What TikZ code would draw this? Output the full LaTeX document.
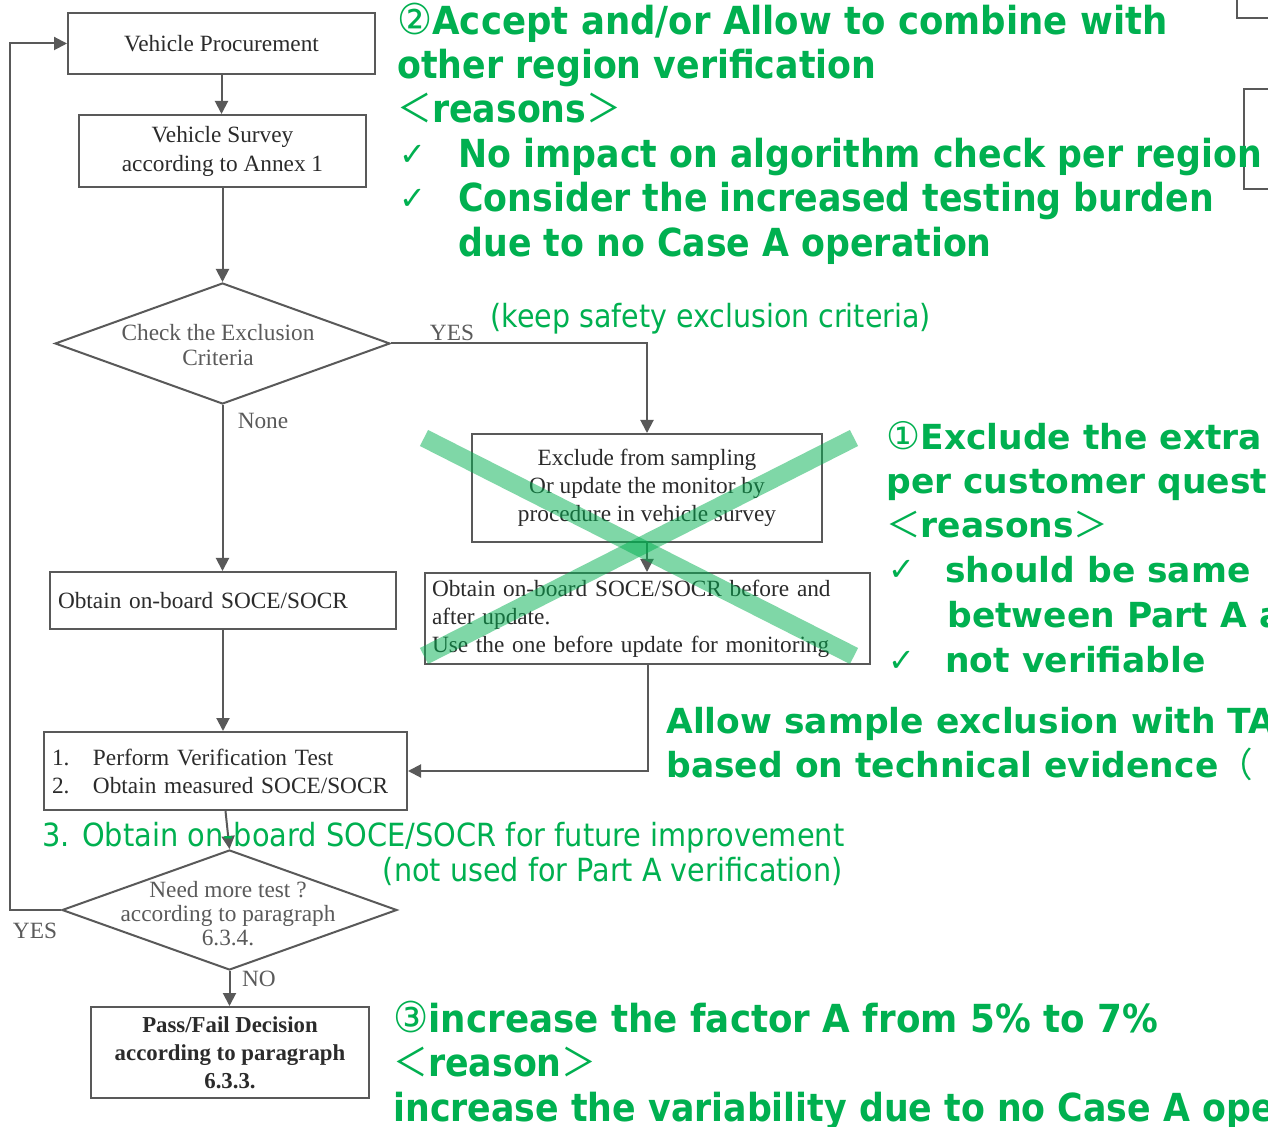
\documentclass[tikz,border=0pt]{standalone}
\usepackage{graphicx}
\usepackage{fontspec}
\setmainfont{Liberation Serif}
\newfontfamily\gf{DejaVu Sans}
\newfontfamily\cjkf{Noto Sans CJK JP}
\usetikzlibrary{shapes.geometric,arrows.meta}
\definecolor{gr}{HTML}{00B050}
\definecolor{lc}{HTML}{595959}
\definecolor{tc}{HTML}{2B2B2B}
\definecolor{dt}{HTML}{5A5A5A}
\newcommand\vstr[1]{\scalebox{1.008}[1.12]{#1}}
\newcommand\vstrw[2]{\scalebox{#1}[1.12]{#2}}
\newcommand\gbig{\gf\bfseries\fontsize{17.25}{20}\selectfont}
\newcommand\gsm{\gf\fontsize{14.25}{17}\selectfont}
\newcommand\ckm{{\gf\mdseries\fontsize{16}{20}\selectfont ✓}}
\newcommand\lab[1]{{\cjkf\mdseries #1}}
\newcommand\circn[1]{{\gf\mdseries\fontsize{19}{20}\selectfont #1}}
\begin{document}
\begin{tikzpicture}[x=0.5pt,y=-0.5pt,
  box/.style={draw=lc,line width=1pt,inner sep=0pt,text=tc,font=\fontsize{11.65}{14}\selectfont,align=center},
  dia/.style={draw=lc,line width=1pt,diamond,inner sep=0pt},
  dtext/.style={inner sep=0pt,text=dt,font=\fontsize{11.65}{12.2}\selectfont,align=center},
  lbl/.style={inner sep=0pt,text=dt,font=\fontsize{11.65}{14}\selectfont},
  arr/.style={draw=lc,line width=1pt,-{Triangle[length=6.5pt,width=6.5pt]}},
  gl/.style={anchor=base west,inner sep=0pt,text=gr,font=\gbig},
  gs/.style={inner sep=0pt,text=gr,font=\gsm},
  cross/.style={draw=gr,line width=9pt,opacity=0.5}]
\fill[white] (0,0) rectangle (1268,1127);
\useasboundingbox (0,0) rectangle (1268,1127);

% partial boxes at right edge
\draw[lc,line width=1pt] (1237,-5) -- (1237,18) -- (1280,18);
\draw[lc,line width=1pt] (1280,89) -- (1244,89) -- (1244,189) -- (1280,189);

% flowchart nodes
\node[box,minimum width=153.5pt,minimum height=30.5pt] (vp) at (221.5,43.5) {Vehicle Procurement};
\node[box,minimum width=143.5pt,minimum height=36pt,font=\fontsize{11.65}{14.5}\selectfont] (vsv) at (222.5,151) {Vehicle Survey\\according to Annex 1};
\node[dia,minimum width=167.5pt,minimum height=60.5pt] (d1) at (222.5,343.5) {};
\node[dtext] (d1t) at (218,345) {Check the Exclusion\\Criteria};
\node[box,minimum width=175pt,minimum height=54pt] (ex) at (647,488) {Exclude from sampling\\Or update the monitor by\\procedure in vehicle survey};
\node[box,minimum height=28.5pt,text width=165pt,inner xsep=4pt,align=left] (ob) at (223,600.5) {Obtain on-board SOCE/SOCR};
\node[box,minimum height=45.5pt,text width=215.5pt,inner xsep=3.5pt,align=left] (ob2) at (647.5,618.5) {Obtain on-board SOCE/SOCR before and\\after update.\\Use the one before update for monitoring};
\node[box,minimum height=39pt,text width=173.5pt,inner xsep=4pt,align=left] (pv) at (225.5,771) {\makebox[20.5pt][l]{1.}Perform Verification Test\\\makebox[20.5pt][l]{2.}Obtain measured SOCE/SOCR};
\node[dia,minimum width=167.5pt,minimum height=60pt] (d2) at (229.5,910) {};
\node[dtext] (d2t) at (228,913.5) {Need more test ?\\according to paragraph\\6.3.4.};
\node[box,minimum width=139pt,minimum height=45.5pt,font=\bfseries\fontsize{11.4}{14}\selectfont] (pf) at (230,1052.5) {Pass/Fail Decision\\according to paragraph\\6.3.3.};

% connectors
\draw[arr] (vp.south) -- (vp.south |- vsv.north);
\draw[arr] (vsv.south) -- (vsv.south |- d1.north);
\draw[arr] (d1.east) -| (ex.north);
\draw[arr] (d1.south) -- (d1.south |- ob.north);
\draw[arr] (ex.south) -- (ex.south |- ob2.north);
\draw[arr] (ob2.south) |- (pv.east);
\draw[arr] (ob.south) -- (ob.south |- pv.north);
\draw[arr] (pv.south) -- (d2.north);
\coordinate (lp) at (10,910);
\draw[arr] (d2.west) -- (lp) |- (vp.west);
\draw[arr] (d2.south) -- (d2.south |- pf.north);

% flow labels
\node[lbl] (yes1) at (452,333) {YES};
\node[lbl] (none) at (263,421) {None};
\node[lbl] (yes2) at (35,931) {YES};
\node[lbl] (no) at (259,979) {NO};

% small green notes
\node[gs,anchor=base west] (keep) at (490,328) {\vstrw{1}{(keep safety exclusion criteria)}};
\node[gs,anchor=base west] (obt3) at (42,846) {\vstrw{1.012}{3. Obtain on-board SOCE/SOCR for future improvement}};
\node[gs,anchor=base east] (notused) at (843,881) {\vstrw{1.005}{(not used for Part A verification)}};

% block 2
\node[gl] (g1) at (397,35) {\vstrw{1.03}{\circn{②}Accept and/or Allow to combine with}};
\node[gl] (g2) at (397,79) {\vstr{other region verification}};
\node[gl] (g3) at (397,123) {\vstr{\lab{＜}reasons\lab{＞}}};
\node[gl] (g4c) at (399,166) {\ckm};
\node[gl] (g4) at (458,168) {\vstr{No impact on algorithm check per region}};
\node[gl] (g5c) at (399,210) {\ckm};
\node[gl] (g5) at (458,212) {\vstr{Consider the increased testing burden}};
\node[gl] (g6) at (458,257) {\vstr{due to no Case A operation}};

% block 1
\node[gl] (h1) at (886,450) {\circn{①}Exclude the extra};
\node[gl] (h2) at (886,494) {per customer quest};
\node[gl] (h3) at (886,538) {\lab{＜}reasons\lab{＞}};
\node[gl] (h4c) at (888,581) {\ckm};
\node[gl] (h4) at (945,583) {should be same};
\node[gl] (h5) at (947,628) {between Part A a};
\node[gl] (h6c) at (888,671) {\ckm};
\node[gl] (h6) at (945,673) {not verifiable};

% allow block
\node[gl] (a1) at (666,733) {Allow sample exclusion with TA};
\node[gl] (a2) at (666,777) {based on technical evidence\lab{（}};

% block 3
\node[gl] (k1) at (393,1032) {\vstrw{1.035}{\circn{③}increase the factor A from 5\% to 7\%}};
\node[gl] (k2) at (393,1076) {\vstr{\lab{＜}reason\lab{＞}}};
\node[gl] (k3) at (393,1121) {\vstr{increase the variability due to no Case A ope}};

% cross over the removed steps
\draw[cross] (424,438) -- (854,656);
\draw[cross] (854,438) -- (424,656);
\end{tikzpicture}
\end{document}
